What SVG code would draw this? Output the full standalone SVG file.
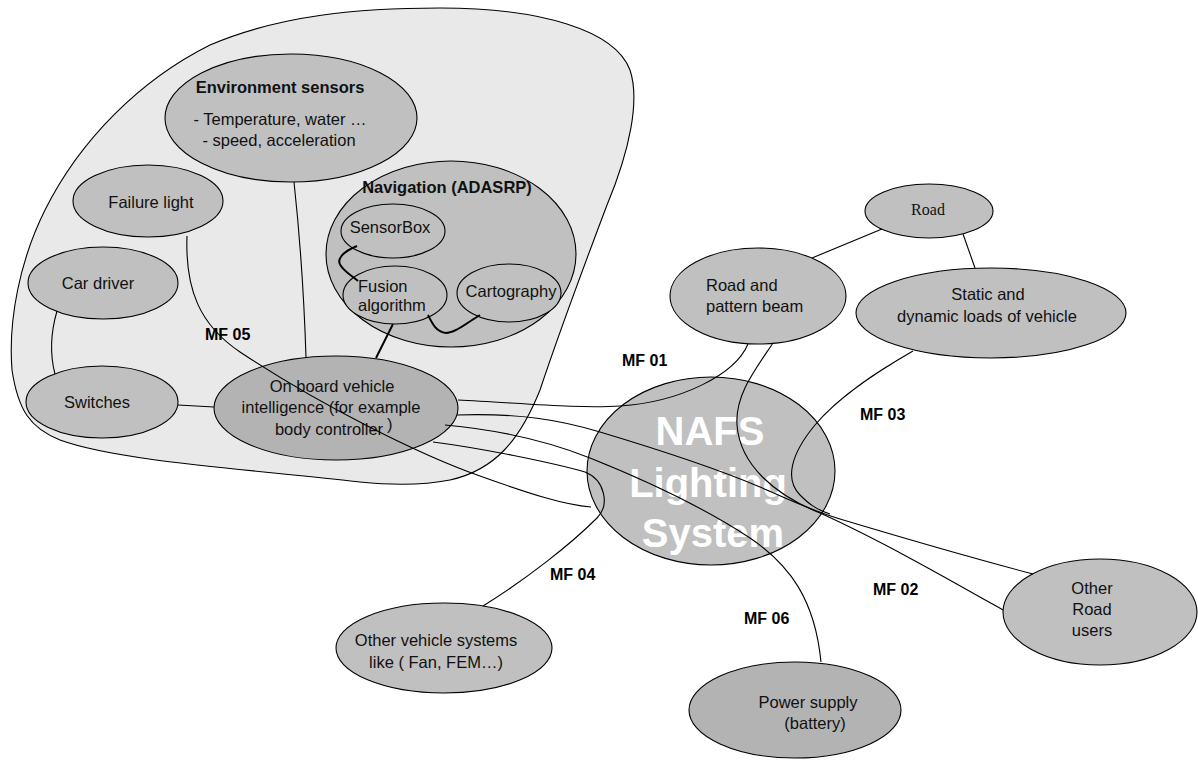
<svg xmlns="http://www.w3.org/2000/svg" width="1198" height="760" viewBox="0 0 1198 760">
  <style>
    .node { fill: #c0c0c0; stroke: #000; stroke-width: 1.1; }
    .dark { fill: #b3b3b3; }
    .zone { fill: #e9e9e9; stroke: #000; stroke-width: 1.1; }
    .t { font-family: "Liberation Sans", Arial, sans-serif; font-size: 16.5px; fill: #111; }
    .c { text-anchor: middle; }
    .b { font-weight: bold; }
    .serif { font-family: "Liberation Serif", "Times New Roman", serif; font-size: 16px; fill: #111; text-anchor: middle; }
    .mf { font-family: "Liberation Sans", Arial, sans-serif; font-size: 16px; font-weight: bold; fill: #000; }
    .big { font-family: "Liberation Sans", Arial, sans-serif; font-size: 40px; font-weight: bold; fill: #fff; text-anchor: middle; }
    .link { fill: none; stroke: #000; stroke-width: 1.1; }
    .thick { stroke-width: 2; }
  </style>

  <!-- vehicle zone -->
  <path id="vehicle-zone" class="zone" d="M440,8 C540,8 615,30 630,70 C640,100 630,150 607,205 C590,250 560,330 540,390 C520,440 495,470 450,480 C420,486 390,485 360,482 C260,470 120,462 60,440 C30,428 18,410 12,370 C8,320 20,260 45,210 C80,140 140,80 210,45 C280,15 360,8 440,8 Z"/>

  <g id="environment-sensors">
    <ellipse class="node" cx="291" cy="118" rx="126" ry="64"/>
    <text class="t c b" x="280" y="93">Environment sensors</text>
    <text class="t c" x="280" y="125">- Temperature, water …</text>
    <text class="t c" x="279" y="146">- speed, acceleration</text>
  </g>

  <g id="navigation">
    <ellipse class="node" cx="451" cy="254" rx="125" ry="93"/>
    <text class="t c b" x="447" y="193">Navigation (ADASRP)</text>
  </g>
  <g id="sensorbox">
    <ellipse class="node" cx="393" cy="231" rx="52" ry="27"/>
    <text class="t c" x="390" y="233">SensorBox</text>
  </g>
  <g id="fusion-algorithm">
    <ellipse class="node" cx="395" cy="295" rx="52" ry="29"/>
    <text class="t" x="358" y="292">Fusion</text>
    <text class="t" x="358" y="311">algorithm</text>
  </g>
  <g id="cartography">
    <ellipse class="node" cx="509" cy="293" rx="52" ry="29"/>
    <text class="t c" x="511" y="297">Cartography</text>
  </g>

  <g id="failure-light">
    <ellipse class="node" cx="148" cy="201" rx="75" ry="36"/>
    <text class="t c" x="151" y="208">Failure light</text>
  </g>
  <g id="car-driver">
    <ellipse class="node" cx="103" cy="283" rx="75" ry="36"/>
    <text class="t c" x="98" y="289">Car driver</text>
  </g>
  <g id="switches">
    <ellipse class="node" cx="102" cy="402" rx="76" ry="36"/>
    <text class="t c" x="97" y="408">Switches</text>
  </g>
  <g id="on-board-intelligence">
    <ellipse class="node dark" cx="336" cy="408" rx="122" ry="52"/>
    <text class="t c" x="332" y="392">On board vehicle</text>
    <text class="t c" x="331" y="413">intelligence (for example</text>
    <text class="t c" x="329" y="435">body controller</text>
    <text class="t" x="387" y="430">)</text>
  </g>

  <g id="nafs-lighting-system">
    <ellipse class="node" cx="711" cy="471" rx="124" ry="94"/>
    <text class="big" x="710" y="445">NAFS</text>
    <text class="big" x="708" y="497">Lighting</text>
    <text class="big" x="713" y="547">System</text>
  </g>

  <g id="road">
    <ellipse class="node" cx="929" cy="211" rx="64" ry="27"/>
    <text class="serif" x="928" y="215">Road</text>
  </g>
  <g id="road-pattern-beam">
    <ellipse class="node" cx="758" cy="296" rx="88" ry="48"/>
    <text class="t" x="706" y="291">Road and</text>
    <text class="t" x="706" y="312">pattern beam</text>
  </g>
  <g id="vehicle-loads">
    <ellipse class="node" cx="991" cy="313" rx="135" ry="45"/>
    <text class="t c" x="988" y="300">Static and</text>
    <text class="t c" x="987" y="322">dynamic loads of vehicle</text>
  </g>
  <g id="other-road-users">
    <ellipse class="node" cx="1100" cy="612" rx="97" ry="53"/>
    <text class="t c" x="1092" y="594">Other</text>
    <text class="t c" x="1092" y="615">Road</text>
    <text class="t c" x="1092" y="636">users</text>
  </g>
  <g id="other-vehicle-systems">
    <ellipse class="node" cx="444" cy="648" rx="108" ry="45"/>
    <text class="t c" x="436" y="646">Other vehicle systems</text>
    <text class="t c" x="436" y="668">like ( Fan, FEM…)</text>
  </g>
  <g id="power-supply">
    <ellipse class="node dark" cx="795" cy="710" rx="106" ry="48"/>
    <text class="t c" x="808" y="708">Power supply</text>
    <text class="t c" x="815" y="729">(battery)</text>
  </g>

  <g id="connectors">
    <!-- inside the navigation unit -->
    <path class="link thick" d="M357,246 C342,252 336,260 341,266 C345,272 352,276 358,281"/>
    <path class="link thick" d="M428,315 C432,323 436,332 446,333 C455,333 465,324 480,315"/>
    <path class="link thick" d="M393,324 L376,358"/>
    <!-- vehicle internal links -->
    <path class="link" d="M294,182 Q303,265 306,357"/>
    <path class="link" d="M57,311 C50,335 50,355 55,374"/>
    <path class="link" d="M178,405 L214,407"/>
    <!-- MF 05 -->
    <path class="link" d="M187,236 C185,290 200,325 240,352 C320,405 420,455 480,476 C530,494 565,505 591,507"/>
    <!-- MF 01 -->
    <path class="link" d="M458,400 C520,403 580,409 620,406 C680,402 735,375 748,344"/>
    <!-- MF 02 -->
    <path class="link" d="M457,415 C520,413 560,420 600,432 C660,450 720,470 760,487 C790,500 810,510 840,519 C900,537 980,560 1033,574"/>
    <path class="link" d="M773,343 C755,370 735,395 737,425 C740,465 775,495 820,513 C880,540 950,580 1003,610"/>
    <!-- MF 06 -->
    <path class="link" d="M445,425 C500,430 550,442 590,458 C640,478 700,505 750,538 C790,565 815,600 821,662"/>
    <!-- MF 04 -->
    <path class="link" d="M433,442 C480,448 550,462 585,472 C605,480 610,505 597,518 C570,545 525,580 483,606"/>
    <!-- MF 03 -->
    <path class="link" d="M913,351 C880,370 840,395 815,425 C790,455 785,480 800,495 C808,503 815,509 830,514"/>
    <!-- road links -->
    <path class="link" d="M882,229 L812,258"/>
    <path class="link" d="M963,234 L975,268"/>
  </g>

  <g id="function-labels">
    <text class="mf" x="205" y="340">MF 05</text>
    <text class="mf" x="622" y="366">MF 01</text>
    <text class="mf" x="860" y="420">MF 03</text>
    <text class="mf" x="550" y="580">MF 04</text>
    <text class="mf" x="873" y="595">MF 02</text>
    <text class="mf" x="744" y="624">MF 06</text>
  </g>
</svg>
